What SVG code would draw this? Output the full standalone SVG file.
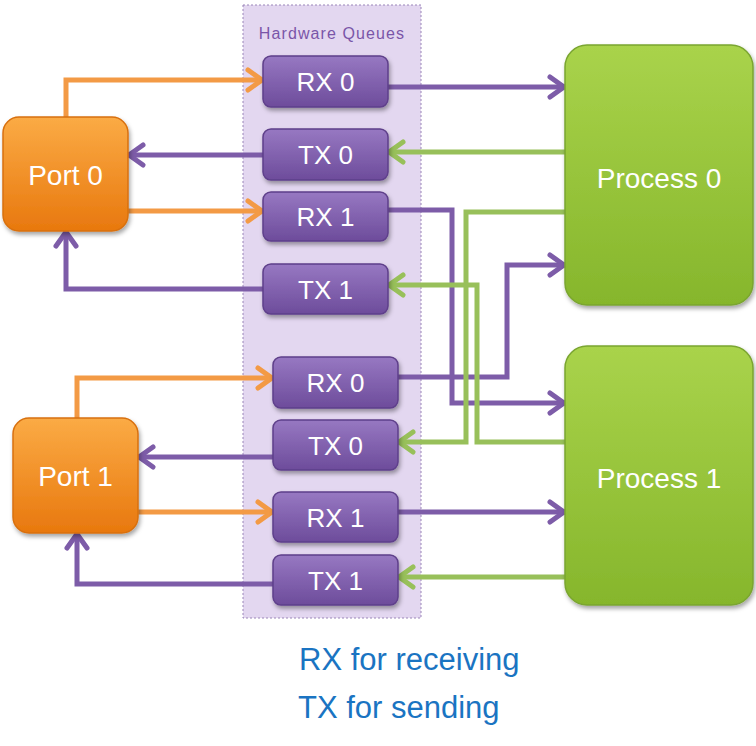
<svg xmlns="http://www.w3.org/2000/svg" width="756" height="746" viewBox="0 0 756 746">
<defs>
<linearGradient id="gOr" x1="0" y1="0" x2="0" y2="1"><stop offset="0" stop-color="#fbab45"/><stop offset="1" stop-color="#e8780e"/></linearGradient>
<linearGradient id="gPu" x1="0" y1="0" x2="0" y2="1"><stop offset="0" stop-color="#9778c2"/><stop offset="1" stop-color="#6d4c9b"/></linearGradient>
<linearGradient id="gGr" x1="0" y1="0" x2="0" y2="1"><stop offset="0" stop-color="#a9d34b"/><stop offset="1" stop-color="#86b62c"/></linearGradient>
<filter id="sh" x="-20%" y="-20%" width="140%" height="150%"><feDropShadow dx="1.5" dy="3" stdDeviation="2" flood-color="#000" flood-opacity="0.35"/></filter>
<marker id="aO" viewBox="0 0 20 26" refX="18" refY="13" markerWidth="20" markerHeight="26" markerUnits="userSpaceOnUse" orient="auto"><path d="M3,3 L17,13 L3,23" fill="none" stroke="#f39a45" stroke-width="5" stroke-linecap="round" stroke-linejoin="round"/></marker>
<marker id="aP" viewBox="0 0 20 26" refX="18" refY="13" markerWidth="20" markerHeight="26" markerUnits="userSpaceOnUse" orient="auto"><path d="M3,3 L17,13 L3,23" fill="none" stroke="#7d5ca8" stroke-width="5" stroke-linecap="round" stroke-linejoin="round"/></marker>
<marker id="aG" viewBox="0 0 20 26" refX="18" refY="13" markerWidth="20" markerHeight="26" markerUnits="userSpaceOnUse" orient="auto"><path d="M3,3 L17,13 L3,23" fill="none" stroke="#98c05a" stroke-width="5" stroke-linecap="round" stroke-linejoin="round"/></marker>
</defs>
<style>
.port{fill:url(#gOr);stroke:#d8700f;stroke-width:1.5;filter:url(#sh)}
.q{fill:url(#gPu);stroke:#5e3f8a;stroke-width:1.5;filter:url(#sh)}
.proc{fill:url(#gGr);stroke:#7aa530;stroke-width:1.5;filter:url(#sh)}
.lbl{font-family:"Liberation Sans",Arial,sans-serif;fill:#fff;text-anchor:middle}
.ql{font-size:26px}
.bl{font-size:28px}
.o{fill:none;stroke:#f39a45;stroke-width:5;marker-end:url(#aO)}
.p{fill:none;stroke:#7d5ca8;stroke-width:5;marker-end:url(#aP)}
.g{fill:none;stroke:#98c05a;stroke-width:5;marker-end:url(#aG)}
.note{font-family:"Liberation Sans",Arial,sans-serif;font-size:31px;fill:#1a74c2}
</style>
<rect id="hwq" x="243" y="5" width="178" height="613" fill="#e3d7f0" stroke="#9a85b8" stroke-width="1" stroke-dasharray="2,2"/>
<text x="332" y="39" font-family="Liberation Sans,Arial,sans-serif" font-size="16" letter-spacing="1.1" fill="#7a55a8" text-anchor="middle">Hardware Queues</text>
<g id="connectors">
<path class="o" d="M66,117 V80 H263"/>
<path class="o" d="M128,211 H263"/>
<path class="o" d="M77,418 V378 H273"/>
<path class="o" d="M138,512 H273"/>
<path class="p" d="M263,155 H128"/>
<path class="p" d="M263,289 H66 V231"/>
<path class="p" d="M273,457 H138"/>
<path class="p" d="M273,584 H77 V533"/>
<path class="p" d="M388,87 H565"/>
<path class="p" d="M388,210 H452 V403 H565"/>
<path class="p" d="M398,377 H507 V265 H565"/>
<path class="p" d="M398,512 H565"/>
<path class="g" d="M565,152 H388"/>
<path class="g" d="M565,212 H466 V442 H398"/>
<path class="g" d="M565,442 H477 V285 H388"/>
<path class="g" d="M565,577 H398"/>
</g>
<g id="port0"><rect class="port" x="3" y="117" width="125" height="114" rx="16"/><text class="lbl bl" x="65.5" y="185">Port 0</text></g>
<g id="port1"><rect class="port" x="13" y="418" width="125" height="115" rx="16"/><text class="lbl bl" x="75.5" y="486">Port 1</text></g>
<g id="process0"><rect class="proc" x="565" y="45" width="188" height="260" rx="22"/><text class="lbl bl" x="659" y="188">Process 0</text></g>
<g id="process1"><rect class="proc" x="565" y="346" width="188" height="259" rx="22"/><text class="lbl bl" x="659" y="488">Process 1</text></g>
<g id="q-rx0-a"><rect class="q" x="263" y="56" width="125" height="51" rx="8"/><text class="lbl ql" x="325.5" y="91">RX 0</text></g>
<g id="q-tx0-a"><rect class="q" x="263" y="129" width="125" height="51" rx="8"/><text class="lbl ql" x="325.5" y="164">TX 0</text></g>
<g id="q-rx1-a"><rect class="q" x="263" y="192" width="125" height="49" rx="8"/><text class="lbl ql" x="325.5" y="226">RX 1</text></g>
<g id="q-tx1-a"><rect class="q" x="263" y="264" width="125" height="50" rx="8"/><text class="lbl ql" x="325.5" y="299">TX 1</text></g>
<g id="q-rx0-b"><rect class="q" x="273" y="357" width="125" height="51" rx="8"/><text class="lbl ql" x="335.5" y="392">RX 0</text></g>
<g id="q-tx0-b"><rect class="q" x="273" y="420" width="125" height="50" rx="8"/><text class="lbl ql" x="335.5" y="455">TX 0</text></g>
<g id="q-rx1-b"><rect class="q" x="273" y="492" width="125" height="50" rx="8"/><text class="lbl ql" x="335.5" y="527">RX 1</text></g>
<g id="q-tx1-b"><rect class="q" x="273" y="555" width="125" height="50" rx="8"/><text class="lbl ql" x="335.5" y="590">TX 1</text></g>
<text class="note" x="299" y="670">RX for receiving</text>
<text class="note" x="298" y="718">TX for sending</text>
</svg>
